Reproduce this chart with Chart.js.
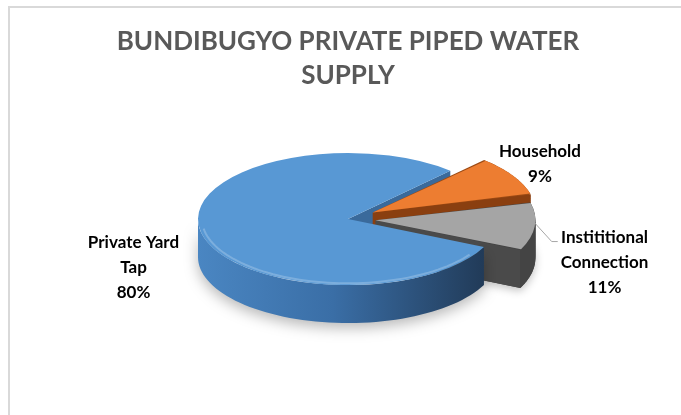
<!DOCTYPE html>
<html>
<head>
<meta charset="utf-8">
<script src="https://cdn.jsdelivr.net/npm/chart.js@4.4.0/dist/chart.umd.min.js"></script>
<style>
  html, body { margin: 0; padding: 0; background: #fff; overflow: hidden; }
  #frame { position: absolute; left: 8px; top: 6px; width: 700px; height: 440px; border: 2px solid #d9d9d9; }
  #wrap { position: absolute; left: 0; top: 0; width: 681px; height: 415px; }
</style>
</head>
<body>
<div id="frame"></div>
<div id="wrap"><canvas id="pie"></canvas></div>
<script>
// ---- data ----
const categories  = ['Private Yard Tap', 'Household', 'Instititional Connection'];
const shares      = [80, 9, 11];
const labelLines  = [['Private Yard', 'Tap'], ['Household'], ['Instititional', 'Connection']];
const topColors   = ['#5898d4', '#ed7d31', '#a5a5a5'];
const sideColors  = ['#2c5580', '#9c4a14', '#444444'];
const wallColors  = ['#3a6a9b', '#8a3f10', '#4a4a4a'];
const explode     = [0, 115, 110];

// slice geometry as ArcElement.draw lays it out (shift by offset/4, radius grows)
function arcGeo(el) {
  const o = (el.options.offset || 0) / 4;
  const half = (el.startAngle + el.endAngle) / 2;
  const fix = 1 - Math.sin(Math.min(Math.PI, el.circumference));
  return { ox: el.x + Math.cos(half) * o, oy: Math.sin(half) * o, r: el.outerRadius + o * fix };
}

// fake 3D: draws the slice bodies under the flattened pie tops
const pie3d = {
  id: 'pie3d',
  beforeDatasetsDraw(chart, args, opts) {
    const ctx = chart.ctx;
    const arcs = chart.getDatasetMeta(0).data;
    const s = opts.tilt, depth = opts.depth;
    const cy = arcs[0].y;
    const pt = (g, a, r, dz) => [g.ox + r * Math.cos(a), cy + (g.oy + r * Math.sin(a)) * s + dz];

    const walls = (el, i) => {
      const g = arcGeo(el);
      [[el.startAngle, Math.cos(el.startAngle) < 0], [el.endAngle, Math.cos(el.endAngle) > 0]].forEach(([a, vis]) => {
        if (!vis) return;
        const q = [pt(g, a, 0, 0), pt(g, a, g.r, 0), pt(g, a, g.r, depth), pt(g, a, 0, depth)];
        ctx.beginPath();
        q.forEach((p, k) => k ? ctx.lineTo(p[0], p[1]) : ctx.moveTo(p[0], p[1]));
        ctx.closePath();
        ctx.fillStyle = wallColors[i];
        ctx.fill();
      });
    };

    const rim = (el, i) => {
      const g = arcGeo(el);
      for (let k = -1; k <= 1; k++) {
        const lo = Math.max(el.startAngle, 2 * Math.PI * k);
        const hi = Math.min(el.endAngle, 2 * Math.PI * k + Math.PI);
        if (hi <= lo) continue;
        const n = 60;
        ctx.save();
        ctx.beginPath();
        for (let j = 0; j <= n; j++) {
          const p = pt(g, lo + (hi - lo) * j / n, g.r, 0);
          j ? ctx.lineTo(p[0], p[1]) : ctx.moveTo(p[0], p[1]);
        }
        for (let j = n; j >= 0; j--) {
          const p = pt(g, lo + (hi - lo) * j / n, g.r, depth);
          ctx.lineTo(p[0], p[1]);
        }
        ctx.closePath();
        if (i === 0) {
          const grd = ctx.createLinearGradient(g.ox - g.r, 0, g.ox + g.r, 0);
          grd.addColorStop(0, '#4a86c2');
          grd.addColorStop(0.45, '#3a6ea6');
          grd.addColorStop(1, '#1f3651');
          ctx.fillStyle = grd;
          ctx.shadowColor = 'rgba(0,0,0,0.28)';
          ctx.shadowBlur = 14;
          ctx.shadowOffsetY = 5;
        } else {
          ctx.fillStyle = sideColors[i];
        }
        ctx.fill();
        ctx.restore();
      }
    };

    // solid body outline of an exploded slice (sector swept downwards)
    const body = (el, i) => {
      const g = arcGeo(el);
      for (let dz = depth; dz >= 0; dz -= 2) {
        ctx.save();
        ctx.beginPath();
        const c = pt(g, 0, 0, dz);
        ctx.moveTo(c[0], c[1]);
        for (let j = 0; j <= 40; j++) {
          const p = pt(g, el.startAngle + (el.endAngle - el.startAngle) * j / 40, g.r, dz);
          ctx.lineTo(p[0], p[1]);
        }
        ctx.closePath();
        ctx.fillStyle = sideColors[i];
        if (dz === depth) {
          ctx.shadowColor = 'rgba(0,0,0,0.25)';
          ctx.shadowBlur = 8;
          ctx.shadowOffsetY = 3;
        }
        ctx.fill();
        ctx.restore();
      }
    };

    walls(arcs[0], 0);
    for (let i = 1; i < arcs.length; i++) {
      body(arcs[i], i);
      walls(arcs[i], i);
      rim(arcs[i], i);
    }
    rim(arcs[0], 0);

    // flatten the tops drawn by the library
    ctx.save();
    ctx.translate(0, cy);
    ctx.scale(1, s);
    ctx.translate(0, -cy);
  },
  afterDatasetsDraw(chart, args, opts) {
    const ctx = chart.ctx;
    ctx.restore();

    const arcs = chart.getDatasetMeta(0).data;
    const cx = arcs[0].x, cy = arcs[0].y, R = arcs[0].outerRadius;

    // soft bevel highlight along the front edge of the big slice
    ctx.save();
    ctx.beginPath();
    for (let j = 0; j <= 60; j++) {
      const a = arcs[0].startAngle + 0.15 + (Math.PI - 0.3 - arcs[0].startAngle) * j / 60;
      const x = cx + (R - 4) * Math.cos(a), y = cy + (R - 4) * Math.sin(a) * opts.tilt;
      j ? ctx.lineTo(x, y) : ctx.moveTo(x, y);
    }
    ctx.strokeStyle = 'rgba(255,255,255,0.22)';
    ctx.lineWidth = 2;
    ctx.stroke();
    ctx.restore();

    const lh = 25;
    ctx.save();
    ctx.font = 'bold 17px Lato';
    ctx.fillStyle = '#000';
    ctx.textAlign = 'center';
    ctx.textBaseline = 'middle';
    arcs.forEach((el, i) => {
      const lines = labelLines[i].concat(shares[i] + '%');
      const [ux, uy] = opts.anchors[i];
      const ax = cx + ux * R, ay = cy + uy * R;
      const top = ay - (lines.length - 1) * lh / 2;
      lines.forEach((t, k) => ctx.fillText(t, ax, top + k * lh));

      if (opts.leader[i]) {
        const w = Math.max(...lines.map(t => ctx.measureText(t).width));
        const left = ax - w / 2;
        const g = arcGeo(el);
        const a = el.startAngle + (el.endAngle - el.startAngle) * 0.35;
        const sx = g.ox + g.r * Math.cos(a) - 4;
        const sy = cy + (g.oy + g.r * Math.sin(a)) * opts.tilt;
        ctx.beginPath();
        ctx.moveTo(sx, sy);
        ctx.lineTo(left - 9, top + 4);
        ctx.lineTo(left - 3, top + 4);
        ctx.strokeStyle = '#a6a6a6';
        ctx.lineWidth = 1;
        ctx.stroke();
      }
    });
    ctx.restore();
  }
};

new Chart(document.getElementById('pie'), {
  type: 'pie',
  data: {
    labels: categories,
    datasets: [{
      data: shares,
      backgroundColor: topColors,
      borderWidth: 0,
      offset: explode,
      clip: false,
    }]
  },
  plugins: [pie3d],
  options: {
    responsive: true,
    maintainAspectRatio: false,
    animation: false,
    events: [],
    radius: 150,
    rotation: 115,
    layout: { padding: { left: 15, right: 0, top: 0, bottom: 69.5 } },
    plugins: {
      legend: { display: false },
      tooltip: { enabled: false },
      title: {
        display: true,
        text: ['BUNDIBUGYO PRIVATE PIPED WATER', 'SUPPLY'],
        color: '#595959',
        font: { family: 'Lato', size: 26, weight: 'bold', lineHeight: 1.3 },
        padding: { top: 25, bottom: 0 },
      },
      pie3d: {
        tilt: 0.44,
        depth: 38,
        anchors: [[-1.43, 0.32], [1.28, -0.37], [1.71, 0.29]],
        leader: [false, false, true],
      }
    }
  }
});
</script>
</body>
</html>
